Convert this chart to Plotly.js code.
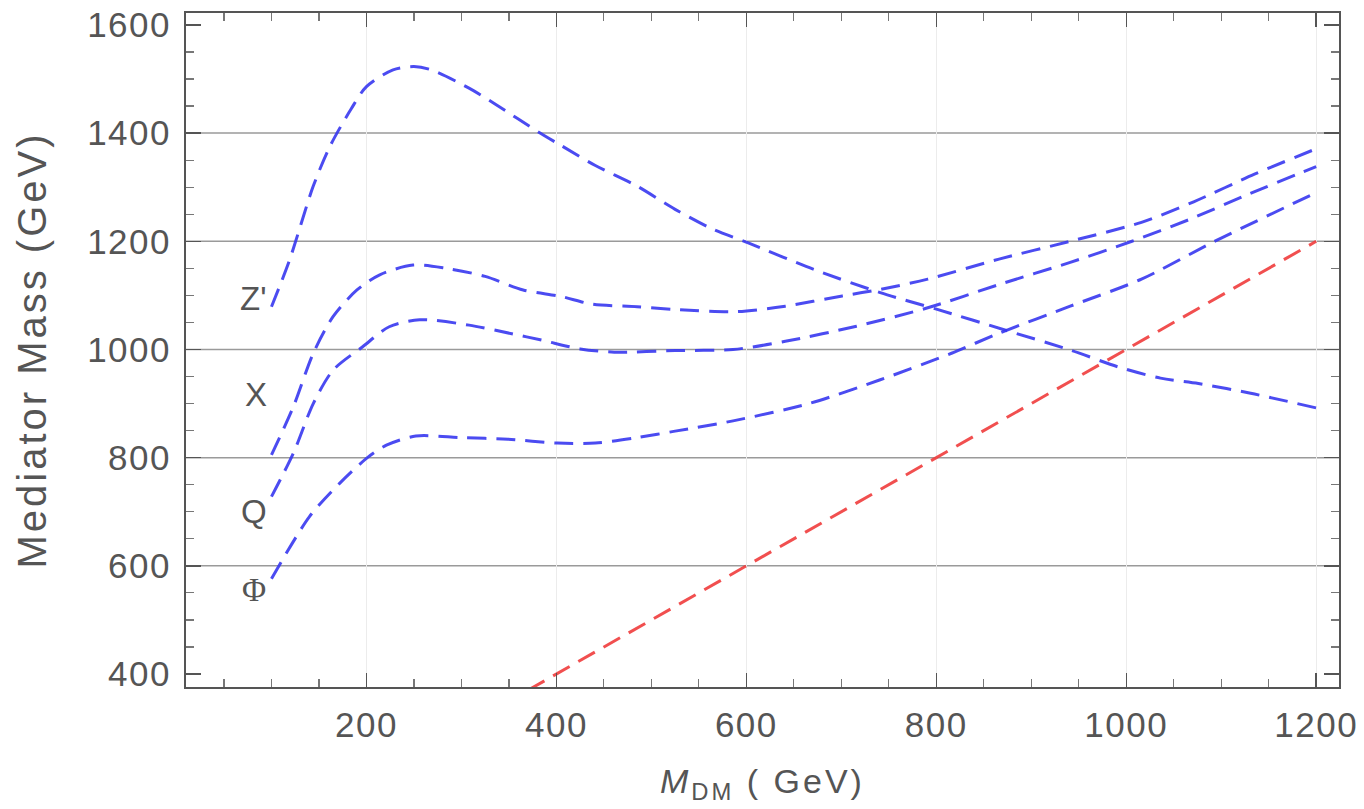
<!DOCTYPE html>
<html>
<head>
<meta charset="utf-8">
<script src="https://cdn.plot.ly/plotly-3.0.1.min.js"></script>
<style>
html,body{margin:0;padding:0;background:#fff;}
#chart{width:1364px;height:809px;}
#chart .xtick text, #chart .ytick text{letter-spacing:1.5px;}
#chart .ytitle{letter-spacing:3px;}
#chart .xtitle{letter-spacing:3px;}
</style>
</head>
<body>
<div id="chart"></div>
<script>
// Z' mediator curve
const zpX = [100, 119, 144, 162, 184, 200, 228, 250, 268, 308, 337, 381, 405, 441, 485, 525, 565, 602, 671, 741, 801, 876, 941, 991, 1036, 1076, 1131, 1200];
const zpY = [1079, 1165, 1302, 1377, 1445, 1486, 1517, 1523, 1517, 1483, 1452, 1402, 1377, 1340, 1302, 1259, 1222, 1197, 1148, 1105, 1074, 1034, 999, 968, 947, 937, 919, 892];
// X mediator curve
const xmX = [100, 123, 144, 165, 190, 214, 249, 284, 325, 365, 405, 437, 485, 525, 590, 641, 701, 741, 791, 866, 941, 1016, 1071, 1135, 1200];
const xmY = [805, 894, 993, 1061, 1110, 1138, 1156, 1150, 1135, 1110, 1098, 1084, 1079, 1074, 1070, 1080, 1099, 1111, 1130, 1167, 1200, 1235, 1273, 1324, 1371];
// Q mediator curve
const qX = [100, 123, 144, 165, 196, 224, 256, 308, 353, 385, 425, 461, 525, 586, 641, 716, 791, 866, 941, 1006, 1066, 1130, 1200];
const qY = [728, 808, 900, 962, 1005, 1042, 1055, 1045, 1029, 1017, 1001, 995, 998, 1000, 1015, 1043, 1077, 1120, 1161, 1200, 1240, 1288, 1338];
// Phi mediator curve
const phX = [100, 140, 172, 201, 221, 252, 300, 349, 401, 441, 485, 525, 586, 666, 741, 816, 866, 941, 1016, 1091, 1200];
const phY = [576, 691, 753, 800, 823, 840, 837, 834, 827, 827, 837, 849, 868, 900, 944, 993, 1030, 1080, 1130, 1198, 1290];
// M_med = M_DM reference line
const diagX = [370, 1200];
const diagY = [370, 1200];
// horizontal grid values
const gridY = [600, 800, 1000, 1200, 1400];
// curve labels
const labelText = ["Z'", "X", "Q", "\u03A6"];
const labelX = [81, 84, 82, 82];
const labelY = [1095, 916, 700, 555];

const blue = 'rgba(55,55,240,0.9)';
const red = 'rgba(240,60,60,0.9)';
const dash = '19px,10px';

function curve(x, y, color) {
  return {x: x, y: y, mode: 'lines', type: 'scatter', hoverinfo: 'skip', cliponaxis: true,
    line: {color: color, width: 3, dash: dash, shape: 'spline', smoothing: 0.8}};
}

const traces = [
  curve(zpX, zpY, blue),
  curve(xmX, xmY, blue),
  curve(qX, qY, blue),
  curve(phX, phY, blue),
  {x: diagX, y: diagY, mode: 'lines', type: 'scatter', hoverinfo: 'skip', cliponaxis: true,
   line: {color: red, width: 3, dash: dash}}
];

const shapes = gridY.map(v => ({type: 'line', xref: 'paper', x0: 0, x1: 1, yref: 'y', y0: v, y1: v,
  line: {color: '#9a9a9a', width: 1.5}, layer: 'below'}));

const sans = 'Liberation Sans, Arial, sans-serif';
const annotations = labelText.map((t, i) => ({x: labelX[i], y: labelY[i], xref: 'x', yref: 'y', text: t,
  showarrow: false, font: {family: i === 3 ? 'Liberation Serif, serif' : sans, size: 33, color: '#555'}}));

const tickFont = {family: sans, size: 35, color: '#555'};

const layout = {
  width: 1364, height: 809,
  margin: {l: 186, r: 25, t: 13, b: 122},
  paper_bgcolor: '#fff', plot_bgcolor: '#fff',
  showlegend: false,
  xaxis: {
    range: [10, 1224], tick0: 0, dtick: 200, ticks: 'inside', ticklen: 14, tickwidth: 1.5, tickcolor: '#555',
    minor: {dtick: 50, tick0: 0, ticks: 'inside', ticklen: 8, tickwidth: 1.2, tickcolor: '#777', showgrid: false},
    showline: true, linecolor: '#555', linewidth: 2, mirror: 'ticks',
    showgrid: true, gridcolor: '#ececec', gridwidth: 1, zeroline: false,
    tickfont: tickFont, ticklabelstandoff: 6,
    title: {text: '<i>M</i><sub>DM</sub> ( GeV)', font: {family: sans, size: 34, color: '#555'}, standoff: 26}
  },
  yaxis: {
    range: [376, 1622], tick0: 0, dtick: 200, ticks: 'inside', ticklen: 15, tickwidth: 1.5, tickcolor: '#555',
    minor: {dtick: 50, tick0: 0, ticks: 'inside', ticklen: 8, tickwidth: 1.2, tickcolor: '#777', showgrid: false},
    showline: true, linecolor: '#555', linewidth: 2, mirror: 'ticks',
    showgrid: false, zeroline: false,
    tickfont: tickFont, ticklabelstandoff: 6,
    title: {text: 'Mediator Mass (GeV)', font: {family: sans, size: 40, color: '#555'}, standoff: 34}
  },
  shapes: shapes,
  annotations: annotations
};

Plotly.newPlot('chart', traces, layout, {displayModeBar: false, staticPlot: true});
</script>
</body>
</html>
